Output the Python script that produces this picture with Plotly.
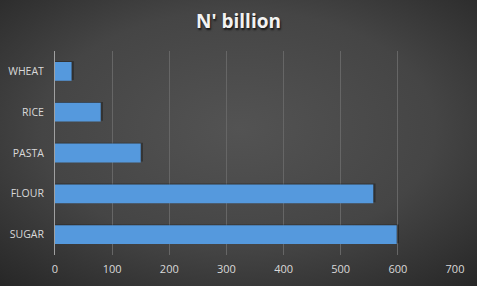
import plotly.graph_objects as go
import urllib.parse

categories = ["SUGAR", "FLOUR", "PASTA", "RICE", "WHEAT"]
values = [598, 557, 150, 80, 29]
x_ticks = [0, 100, 200, 300, 400, 500, 600, 700]
title_text = "N' billion"

W, H = 477, 286
ml, mr, mt, mb = 55, 22, 51, 31
pw, ph = W - ml - mr, H - mt - mb

svg = (
    f'<svg xmlns="http://www.w3.org/2000/svg" width="{W}" height="{H}" viewBox="0 0 {W} {H}" preserveAspectRatio="none">'
    '<defs><radialGradient id="g" cx="50%" cy="45%" r="75%">'
    '<stop offset="0%" stop-color="#535353"/>'
    '<stop offset="55%" stop-color="#454545"/>'
    '<stop offset="100%" stop-color="#262626"/>'
    '</radialGradient></defs>'
    f'<rect width="{W}" height="{H}" fill="url(#g)"/></svg>'
)
src = "data:image/svg+xml;charset=utf-8," + urllib.parse.quote(svg)

fig = go.Figure()
# soft shadow under bars
fig.add_trace(go.Bar(
    y=categories, x=[v + 4 for v in values], orientation="h",
    marker=dict(color="rgba(0,0,0,0.3)", line=dict(width=0)),
    width=0.46, offset=-0.21, hoverinfo="skip",
))
fig.add_trace(go.Bar(
    y=categories, x=values, orientation="h",
    marker=dict(color="#5599dd", line=dict(width=0)),
    width=0.46, offset=-0.23,
))

fig.update_layout(
    width=W, height=H,
    barmode="overlay",
    margin=dict(l=ml, r=mr, t=mt, b=mb, autoexpand=False),
    paper_bgcolor="#404040", plot_bgcolor="rgba(0,0,0,0)",
    showlegend=False,
    title=dict(text=f"<b>{title_text}</b>", x=0.5, xanchor="center", y=0.925, yanchor="middle",
               font=dict(family="Open Sans", size=19, color="#f2f2f2",
                         shadow="1px 2px 2px rgba(0,0,0,0.7)")),
    font=dict(family="Open Sans", color="#d9d9d9", size=11),
    images=[dict(source=src, xref="paper", yref="paper",
                 x=-ml / pw, y=1 + mt / ph, sizex=W / pw, sizey=H / ph,
                 xanchor="left", yanchor="top", sizing="stretch", layer="below")],
)
fig.update_xaxes(range=[0, 700], tickvals=x_ticks, showgrid=True, gridcolor="#666666", gridwidth=1,
                 zeroline=False, showline=False, ticks="", tickfont=dict(size=11, color="#d9d9d9"),
                 ticklabelstandoff=6, automargin=False, fixedrange=True)
fig.update_yaxes(showgrid=False, showline=True, linecolor="#a0a0a0", linewidth=1, ticks="",
                 ticklabelstandoff=8, tickfont=dict(size=10.5, color="#d9d9d9"),
                 automargin=False, fixedrange=True)

fig.write_html("out.html")
